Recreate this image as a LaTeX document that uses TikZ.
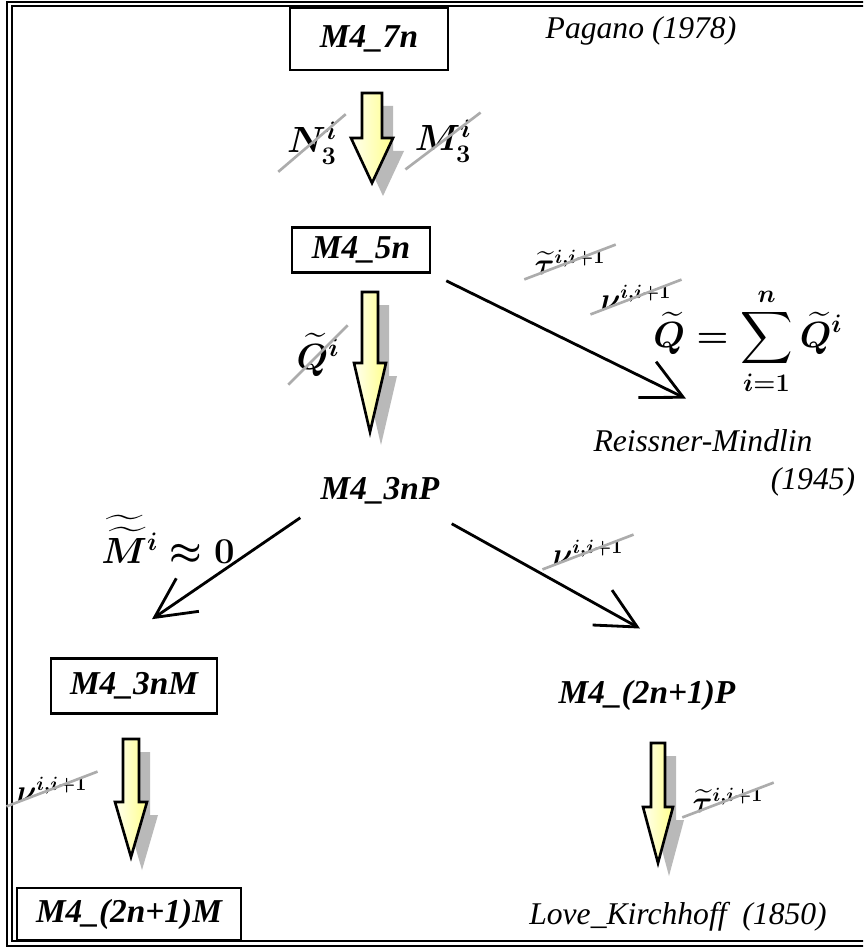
\documentclass[tikz,border=0pt]{standalone}
\usepackage{amsmath}
\usepackage{fontspec}
\setmainfont{Liberation Serif}
\usetikzlibrary{arrows.meta}

% hollow block arrow with a grey shadow: centre x, top, neck, tip, shaft and head half widths
\newcommand{\fatarrow}[6]{%
  \fill[gray!55, shift={(11,13)}] ({#1-#5},#2) -- ({#1+#5},#2) -- ({#1+#5},#3) -- ({#1+#6},#3)
    -- (#1,#4) -- ({#1-#6},#3) -- ({#1-#5},#3) -- cycle;
  \draw[fat arrow] ({#1-#5},#2) -- ({#1+#5},#2) -- ({#1+#5},#3) -- ({#1+#6},#3)
    -- (#1,#4) -- ({#1-#6},#3) -- ({#1-#5},#3) -- cycle;
}

\begin{document}
\begin{tikzpicture}[x=0.02cm, y=-0.02cm,
    model/.style={font=\fontsize{19}{22}\selectfont\bfseries\itshape, inner sep=0.1cm},
    modelbox/.style={model, draw, line width=1.5pt},
    author/.style={font=\fontsize{18}{21}\selectfont\itshape},
    sym/.style={font=\fontsize{20}{23}\selectfont\boldmath, inner sep=1pt},
    small sym/.style={sym, font=\fontsize{16}{19}\selectfont\boldmath},
    strike/.style={gray!65, line width=1.5pt, shorten <=-5pt, shorten >=-5pt},
    thin arrow/.style={line width=1.6pt, -{Straight Barb[length=0.8cm, width=0.8cm]}},
    fat arrow/.style={draw=black, line width=1.5pt, left color=yellow!6, right color=yellow!45}]

    % page and double frame
    \clip (0,0) rectangle (863,949);
    \fill[white] (0,0) rectangle (863,949);
    \draw[line width=0.9pt] (7,2) rectangle (880,946);
    \draw[line width=0.9pt] (12,6) rectangle (875,941);

    % models
    \node[modelbox, minimum width=3.16cm, minimum height=1.24cm] (m7n) at (369,39) {M4\_7n};
    \node[author] (pagano) at (641,31) {Pagano (1978)};
    \node[modelbox, minimum width=2.76cm, minimum height=0.9cm] (m5n) at (361,250) {M4\_5n};
    \node[model] (m3nP) at (380,491) {M4\_3nP};
    \node[author] (rm) at (703,441) {Reissner-Mindlin};
    \node[author] (rmyear) at (813,482) {(1945)};
    \node[modelbox, minimum width=3.32cm, minimum height=1.1cm] (m3nM) at (134,686) {M4\_3nM};
    \node[model] (m2nP) at (647,695) {M4\_(2n+1)P};
    \node[modelbox, minimum width=4.48cm, minimum height=1.04cm] (m2nM) at (129,914) {M4\_(2n+1)M};
    \node[author] (lk) at (678,917) {Love\_Kirchhoff\ \ (1850)};

    % quantities dropped at each step
    \node[sym] (n3) at (312,143) {$N_3^i$};
    \node[sym] (mm3) at (443,141) {$M_3^i$};
    \node[sym] (qi) at (318,355) {$\widetilde{Q}^i$};
    \node[small sym] (tau1) at (570,262) {$\widetilde{\tau}^{i,i+1}$};
    \node[small sym] (nu1) at (636,297) {$\nu^{i,i+1}$};
    \node[sym] (qsum) at (748,341) {$\displaystyle \widetilde{Q}=\sum_{i=1}^{n}\widetilde{Q}^i$};
    \node[sym] (mtt) at (168,540) {$\widetilde{\widetilde{M}}{}^i \approx 0$};
    \node[small sym] (nu2) at (588,552) {$\nu^{i,i+1}$};
    \node[small sym] (nu3) at (52,789) {$\nu^{i,i+1}$};
    \node[small sym] (tau2) at (728,800) {$\widetilde{\tau}^{i,i+1}$};

    % strike them out
    \foreach \s in {n3,mm3,qi,tau1,nu1,nu2,nu3,tau2}
        \draw[strike] (\s.south west) -- (\s.north east);

    % block arrows
    \fatarrow{372}{93}{138}{183}{10}{21}
    \fatarrow{370}{292}{363}{432}{8}{16}
    \fatarrow{131}{739}{802}{857}{8}{16}
    \fatarrow{658}{743}{807}{863}{7}{15}

    % line arrows
    \draw[thin arrow] ([shift={(15,7)}]m5n.south east) -- ([shift={(-17,-25)}]rm.north);
    \draw[thin arrow] ([shift={(-15,8)}]m3nP.south west) -- ([shift={(18,-38)}]m3nM.north);
    \draw[thin arrow] ([shift={(7,14)}]m3nP.south east) -- ([shift={(-7,-46)}]m2nP.north);
\end{tikzpicture}
\end{document}
